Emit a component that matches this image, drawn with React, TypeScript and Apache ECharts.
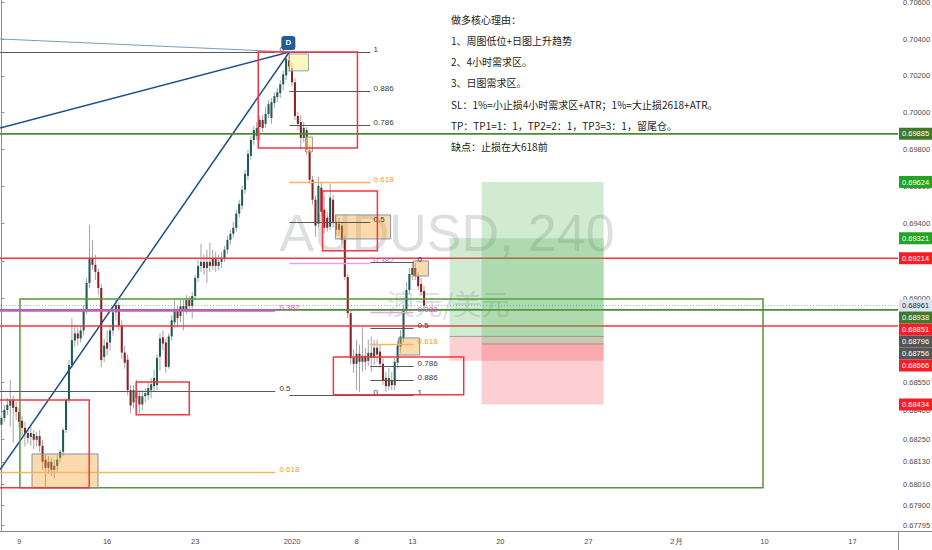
import React, { useEffect, useRef } from 'react';
import * as echarts from 'echarts';

// ---------- candle data (AUDUSD 4h) ----------
const opens = [
  0.68326,0.68362,0.68405,0.68427,0.68458,0.68421,0.68394,0.68348,0.68310,0.68283,
  0.68262,0.68278,0.68247,0.68267,0.68215,0.68142,0.68099,0.68131,0.68088,0.68109,
  0.68152,0.68183,0.68299,0.68458,0.68644,0.68774,0.68812,0.68785,0.68828,0.68936,
  0.69082,0.69216,0.69179,0.69141,0.69055,0.68686,0.68764,0.68764,0.68828,0.68925,
  0.68963,0.68855,0.68710,0.68672,0.68510,0.68445,0.68499,0.68478,0.68434,0.68478,
  0.68483,0.68510,0.68531,0.68537,0.68688,0.68791,0.68764,0.68634,0.68796,0.68871,
  0.68936,0.68904,0.68958,0.68942,0.68990,0.68958,0.69012,0.69109,0.69173,0.69195,
  0.69162,0.69195,0.69173,0.69216,0.69173,0.69195,0.69211,0.69260,0.69313,0.69346,
  0.69378,0.69454,0.69497,0.69583,0.69658,0.69766,0.69852,0.69874,0.69922,0.69960,
  0.69939,0.69993,0.69971,0.70052,0.70084,0.70106,0.70154,0.70203,0.70284,0.70241,
  0.70165,0.69982,0.69949,0.69863,0.69906,0.69799,0.69637,0.69529,0.69400,0.69594,
  0.69475,0.69432,0.69384,0.69529,0.69410,0.69367,0.69389,0.69313,0.69114,0.68920,
  0.68682,0.68650,0.68704,0.68661,0.68693,0.68666,0.68709,0.68682,0.68736,0.68715,
  0.68650,0.68575,0.68531,0.68564,0.68537,0.68656,0.68742,0.68785,0.68936,0.69044,
  0.69125,0.69162,0.69119,0.69076,0.69039,
];
const closes = [
  0.68362,0.68405,0.68432,0.68458,0.68416,0.68394,0.68342,0.68310,0.68283,0.68256,
  0.68283,0.68247,0.68267,0.68215,0.68131,0.68099,0.68131,0.68088,0.68109,0.68142,
  0.68183,0.68299,0.68458,0.68644,0.68776,0.68812,0.68785,0.68828,0.68936,0.69082,
  0.69216,0.69179,0.69141,0.69055,0.68670,0.68747,0.68731,0.68828,0.68925,0.68963,
  0.68855,0.68710,0.68656,0.68510,0.68429,0.68510,0.68467,0.68434,0.68478,0.68494,
  0.68521,0.68542,0.68575,0.68682,0.68785,0.68758,0.68634,0.68796,0.68882,0.68936,
  0.68893,0.68958,0.68936,0.68990,0.68958,0.69012,0.69109,0.69173,0.69195,0.69162,
  0.69195,0.69173,0.69216,0.69173,0.69195,0.69216,0.69260,0.69313,0.69346,0.69378,
  0.69454,0.69507,0.69583,0.69669,0.69777,0.69852,0.69906,0.69917,0.69960,0.69917,
  0.69993,0.70046,0.70057,0.70090,0.70111,0.70154,0.70208,0.70294,0.70251,0.70165,
  0.69982,0.69939,0.69863,0.69917,0.69799,0.69637,0.69529,0.69389,0.69604,0.69464,
  0.69378,0.69378,0.69540,0.69410,0.69367,0.69400,0.69313,0.69114,0.68920,0.68680,
  0.68650,0.68704,0.68661,0.68693,0.68661,0.68709,0.68682,0.68736,0.68699,0.68650,
  0.68564,0.68531,0.68575,0.68537,0.68661,0.68747,0.68796,0.68936,0.69044,0.69130,
  0.69162,0.69119,0.69065,0.69033,0.68961,
];
const lows = [
  0.68299,0.68342,0.68378,0.68316,0.68231,0.68353,0.68310,0.68267,0.68210,0.68226,
  0.68215,0.68199,0.68210,0.68183,0.68088,0.67998,0.68066,0.68055,0.68045,0.68077,
  0.68131,0.68161,0.68283,0.68442,0.68628,0.68742,0.68747,0.68764,0.68801,0.68915,
  0.69055,0.69152,0.69098,0.69017,0.68632,0.68659,0.68694,0.68721,0.68801,0.68882,
  0.68828,0.68677,0.68624,0.68483,0.68389,0.68413,0.68402,0.68389,0.68402,0.68445,
  0.68456,0.68467,0.68499,0.68510,0.68613,0.68721,0.68602,0.68624,0.68774,0.68839,
  0.68844,0.68871,0.68828,0.68915,0.68925,0.68893,0.68990,0.69087,0.69141,0.69125,
  0.69082,0.69141,0.69152,0.69141,0.69152,0.69162,0.69195,0.69238,0.69286,0.69324,
  0.69357,0.69432,0.69475,0.69561,0.69637,0.69745,0.69825,0.69852,0.69852,0.69896,
  0.69917,0.69971,0.69939,0.70025,0.70057,0.70079,0.70122,0.70176,0.70219,0.70143,
  0.69960,0.69906,0.69799,0.69842,0.69772,0.69615,0.69502,0.69330,0.69378,0.69443,
  0.69346,0.69357,0.69367,0.69378,0.69335,0.69335,0.69292,0.69098,0.68893,0.68648,
  0.68602,0.68510,0.68499,0.68607,0.68618,0.68639,0.68607,0.68645,0.68661,0.68629,
  0.68537,0.68499,0.68510,0.68510,0.68510,0.68624,0.68710,0.68764,0.68915,0.69022,
  0.69098,0.69098,0.69044,0.69012,0.68947,
];
const highs = [
  0.68394,0.68432,0.68469,0.68564,0.68480,0.68448,0.68416,0.68373,0.68342,0.68310,
  0.68321,0.68299,0.68289,0.68299,0.68247,0.68167,0.68161,0.68152,0.68142,0.68167,
  0.68194,0.68310,0.68469,0.68671,0.68894,0.68855,0.68844,0.68855,0.68963,0.69109,
  0.69394,0.69313,0.69233,0.69162,0.69076,0.68785,0.68828,0.68855,0.68958,0.68990,
  0.68979,0.68882,0.68747,0.68699,0.68537,0.68537,0.68564,0.68510,0.68510,0.68521,
  0.68553,0.68575,0.68618,0.68699,0.68812,0.68828,0.68785,0.68812,0.68909,0.68990,
  0.68958,0.68990,0.68990,0.69017,0.69012,0.69033,0.69125,0.69206,0.69292,0.69233,
  0.69260,0.69297,0.69260,0.69249,0.69233,0.69249,0.69281,0.69335,0.69367,0.69410,
  0.69475,0.69529,0.69604,0.69691,0.69799,0.69874,0.69928,0.69949,0.69982,0.69987,
  0.70030,0.70068,0.70079,0.70111,0.70133,0.70176,0.70230,0.70311,0.70330,0.70273,
  0.70187,0.70003,0.69987,0.69949,0.69922,0.69820,0.69658,0.69551,0.69653,0.69626,
  0.69551,0.69464,0.69615,0.69556,0.69443,0.69432,0.69410,0.69335,0.69130,0.68936,
  0.68726,0.68779,0.68752,0.68844,0.68736,0.68779,0.68796,0.68779,0.68779,0.68752,
  0.68682,0.68607,0.68629,0.68607,0.68682,0.68774,0.68828,0.68963,0.69087,0.69162,
  0.69189,0.69189,0.69141,0.69109,0.69065,
];

// ---------- axes ----------
const xTickIdx = [6, 36, 66, 99, 121, 140, 170, 200, 230, 260, 290];
const xTickText = ['9', '16', '23', '2020', '8', '13', '20', '27', '2月', '10', '17'];
const yTickValues = [0.706, 0.704, 0.702, 0.7, 0.698, 0.696, 0.694, 0.692, 0.69, 0.6855, 0.684, 0.6825, 0.6813, 0.6801, 0.679, 0.67795];
const X_MIN = -0.5;
const X_MAX = 305.5;
const Y_MIN = 0.67766;
const Y_MAX = 0.70614;

// ---------- drawings (bar index, price) ----------
const fibALevels = ['1', '0.886', '0.786', '0.618', '0.5', '0.382', '0'];
const fibAPrices = [0.7033, 0.7012, 0.69935, 0.69625, 0.69408, 0.6919, 0.68485];
const fibARange = [98.1, 125.7, 126.8];
const fibBLevels = ['0', '0.382', '0.5', '0.618', '0.786', '0.886', '1'];
const fibBPrices = [0.69195, 0.68924, 0.6884, 0.68756, 0.68637, 0.68566, 0.68485];
const fibBRange = [125.7, 140.4, 141.8];
const fibCLevels = ['0', '0.382', '0.5', '0.618'];
const fibCPrices = [0.7033, 0.68937, 0.68507, 0.68076];
const fibCRange = [-0.5, 93.3, 94.7];

const redBoxes = [
  [87.5, 0.7033, 121.3, 0.69809],
  [109.4, 0.69576, 128.1, 0.69254],
  [113.1, 0.68687, 157.5, 0.68485],
  [45.9, 0.68554, 64.0, 0.68379],
  [-3, 0.68458, 29.9, 0.67993],
];
const orangeBoxes = [
  [10.4, 0.68172, 32.9, 0.67993],
  [113.8, 0.69447, 132.6, 0.69318],
  [140.4, 0.692, 145.5, 0.69119],
  [135.3, 0.68788, 142.5, 0.68697],
];
const yellowBoxes = [
  [98.1, 0.70319, 104.6, 0.70227],
  [103.6, 0.69868, 106.0, 0.69787],
];
const greenBoxes = [[6.3, 0.68996, 259.5, 0.67993]];
const trendLines = [
  [-0.5, 0.69917, 98.1, 0.7033],
  [-0.5, 0.68088, 98.1, 0.7033],
];
const thinLines = [[-0.5, 0.70401, 98.1, 0.7033]];
const pivotPoint = [[98.1, 0.7033]];

const hLinePrices = [0.69885, 0.69214, 0.68938, 0.68851];
const hLineKinds = ['green', 'red', 'green', 'red'];
const lastPrice = 0.68961;

const posX1 = [152.7, 163.6];
const posX2 = [205.2, 205.2];
const posEntry = [0.68796, 0.68756];
const posTarget = [0.69321, 0.69624];
const posStop = [0.68666, 0.68434];

const tagPrices = [0.69885, 0.69624, 0.69321, 0.69214, 0.68961, 0.68938, 0.68851, 0.68796, 0.68756, 0.68666, 0.68434];
const tagKinds = ['dkgreen', 'green', 'green', 'red', 'last', 'dkgreen', 'red', 'gray', 'gray', 'red', 'red'];

const noteLines = [
  '做多核心理由：',
  '1、周图低位+日图上升趋势',
  '2、4小时需求区。',
  '3、日图需求区。',
  'SL：1%=小止损4小时需求区+ATR；1%=大止损2618+ATR。',
  'TP：TP1=1：1，TP2=2：1，TP3=3：1，留尾仓。',
  '缺点：止损在大618前',
];

// ---------- styles ----------
const UP = '#1d5d52';
const DOWN = '#8c1f22';
const WICK = '#a2a4a8';
const RED = '#f23645';
const GREEN_LINE = '#4d8a33';
const AX_FONT = '7.5px "Liberation Sans", Arial, sans-serif';
const FIB_FONT = '8px "Liberation Sans", Arial, sans-serif';
const TAG_STYLE: Record<string, { bg: string; fg: string }> = {
  dkgreen: { bg: '#3f7a2b', fg: '#ffffff' },
  green: { bg: '#23a523', fg: '#ffffff' },
  red: { bg: '#f51d26', fg: '#ffffff' },
  gray: { bg: '#555555', fg: '#ffffff' },
  last: { bg: '#d9e6f2', fg: '#1e2733' },
};

function rectSeries(data: number[][], style: any, z: number) {
  return {
    type: 'custom',
    data,
    z,
    silent: true,
    clip: true,
    encode: { x: [0, 2], y: [1, 3] },
    renderItem: (params: any, api: any) => {
      const a = api.coord([api.value(0), api.value(1)]);
      const b = api.coord([api.value(2), api.value(3)]);
      return {
        type: 'rect',
        shape: {
          x: Math.min(a[0], b[0]),
          y: Math.min(a[1], b[1]),
          width: Math.abs(b[0] - a[0]),
          height: Math.abs(b[1] - a[1]),
        },
        style,
      };
    },
  };
}

function segSeries(data: number[][], style: any, z: number) {
  return {
    type: 'custom',
    data,
    z,
    silent: true,
    clip: true,
    encode: { x: [0, 2], y: [1, 3] },
    renderItem: (params: any, api: any) => {
      const a = api.coord([api.value(0), api.value(1)]);
      const b = api.coord([api.value(2), api.value(3)]);
      return { type: 'line', shape: { x1: a[0], y1: a[1], x2: b[0], y2: b[1] }, style };
    },
  };
}

function fibSeries(levels: string[], prices: number[], range: number[], thick382: boolean) {
  return {
    type: 'custom',
    data: prices.map((p, k) => [range[0], p, k]),
    z: 7,
    silent: true,
    clip: true,
    encode: { x: 0, y: 1 },
    renderItem: (params: any, api: any) => {
      const k = params.dataIndex;
      const p = prices[k];
      const lvl = levels[k];
      const a = api.coord([range[0], p]);
      const b = api.coord([range[1], p]);
      const t = api.coord([range[2], p]);
      let stroke = '#55585e';
      let lw = 1;
      let tc = '#3a3a3a';
      if (lvl === '0.618') { stroke = '#f8b25e'; lw = 1.5; tc = '#f29b2e'; }
      if (lvl === '0.382') {
        stroke = thick382 ? '#c35ec3' : '#eaa0ea';
        lw = thick382 ? 2.5 : 1.5;
        tc = '#d050d0';
      }
      const y = Math.round(a[1]) + 0.5;
      return {
        type: 'group',
        children: [
          { type: 'line', shape: { x1: a[0], y1: y, x2: b[0], y2: y }, style: { stroke, lineWidth: lw } },
          {
            type: 'text',
            style: {
              x: t[0], y: y + 1, text: lvl, fill: tc, font: FIB_FONT,
              textAlign: 'left', align: 'left', textVerticalAlign: 'bottom', verticalAlign: 'bottom',
            },
          },
        ],
      };
    },
  };
}

const candleSeries = {
  type: 'custom',
  name: 'AUDUSD',
  data: opens.map((o, i) => [i, o, closes[i], lows[i], highs[i]]),
  z: 5,
  silent: true,
  clip: true,
  encode: { x: 0, y: [1, 2, 3, 4] },
  renderItem: (params: any, api: any) => {
    const i = api.value(0);
    const o = api.value(1);
    const c = api.value(2);
    const l = api.value(3);
    const h = api.value(4);
    const pO = api.coord([i, o]);
    const pC = api.coord([i, c]);
    const pL = api.coord([i, l]);
    const pH = api.coord([i, h]);
    const unit = api.coord([i + 0.5, o])[0] - api.coord([i - 0.5, o])[0];
    const bw = unit * 0.7;
    const cx = pO[0];
    const top = Math.min(pO[1], pC[1]);
    const ht = Math.max(1, Math.abs(pO[1] - pC[1]));
    return {
      type: 'group',
      children: [
        { type: 'line', shape: { x1: cx, y1: pH[1], x2: cx, y2: pL[1] }, style: { stroke: WICK, lineWidth: 1 } },
        { type: 'rect', shape: { x: cx - bw / 2, y: top, width: bw, height: ht }, style: { fill: c >= o ? UP : DOWN } },
      ],
    };
  },
};

const hLineSeries = {
  type: 'custom',
  data: hLinePrices.map((p) => [X_MIN, p]),
  z: 6,
  silent: true,
  clip: true,
  encode: { x: 0, y: 1 },
  renderItem: (params: any, api: any) => {
    const k = params.dataIndex;
    const a = api.coord([X_MIN, hLinePrices[k]]);
    const b = api.coord([X_MAX, hLinePrices[k]]);
    const kind = hLineKinds[k];
    return {
      type: 'line',
      shape: { x1: a[0], y1: a[1], x2: b[0], y2: b[1] },
      style: { stroke: kind === 'green' ? GREEN_LINE : RED, lineWidth: kind === 'green' ? 1.6 : 1.5 },
    };
  },
};

const lastLineSeries = {
  type: 'custom',
  data: [[X_MIN, lastPrice]],
  z: 4,
  silent: true,
  clip: true,
  encode: { x: 0, y: 1 },
  renderItem: (params: any, api: any) => {
    const a = api.coord([X_MIN, lastPrice]);
    const b = api.coord([X_MAX, lastPrice]);
    return {
      type: 'line',
      shape: { x1: a[0], y1: a[1], x2: b[0], y2: b[1] },
      style: { stroke: '#8dbbe3', lineWidth: 1, lineDash: [1, 2] },
    };
  },
};

const positionSeries = {
  type: 'custom',
  data: posX1.map((x, k) => [x, posX2[k], posEntry[k], posTarget[k], posStop[k]]),
  z: 8,
  silent: true,
  clip: true,
  encode: { x: [0, 1], y: [2, 3, 4] },
  renderItem: (params: any, api: any) => {
    const x1 = api.value(0);
    const x2 = api.value(1);
    const e = api.coord([x1, api.value(2)]);
    const t = api.coord([x2, api.value(3)]);
    const s = api.coord([x2, api.value(4)]);
    return {
      type: 'group',
      children: [
        { type: 'rect', shape: { x: e[0], y: t[1], width: t[0] - e[0], height: e[1] - t[1] }, style: { fill: 'rgba(76,175,80,0.26)' } },
        { type: 'rect', shape: { x: e[0], y: e[1], width: s[0] - e[0], height: s[1] - e[1] }, style: { fill: 'rgba(242,54,69,0.24)' } },
        { type: 'line', shape: { x1: e[0], y1: e[1], x2: t[0], y2: e[1] }, style: { stroke: 'rgba(110,110,110,0.55)', lineWidth: 1 } },
      ],
    };
  },
};

const pivotSeries = {
  type: 'custom',
  data: pivotPoint,
  z: 12,
  silent: true,
  clip: false,
  encode: { x: 0, y: 1 },
  renderItem: (params: any, api: any) => {
    const p = api.coord([api.value(0), api.value(1)]);
    return {
      type: 'group',
      children: [
        { type: 'rect', shape: { x: p[0] - 8, y: p[1] - 16, width: 14, height: 14, r: 3 }, style: { fill: '#1f5c98' } },
        {
          type: 'text',
          style: {
            x: p[0] - 1, y: p[1] - 9, text: 'D', fill: '#ffffff', font: 'bold 8px "Liberation Sans", Arial, sans-serif',
            textAlign: 'center', align: 'center', textVerticalAlign: 'middle', verticalAlign: 'middle',
          },
        },
      ],
    };
  },
};

const TAG_H = 12;
const tagSeries = {
  type: 'custom',
  data: tagPrices.map((p) => [X_MAX, p]),
  z: 20,
  silent: true,
  clip: false,
  encode: { x: 0, y: 1 },
  renderItem: (params: any, api: any) => {
    const ys = tagPrices.map((p) => api.coord([X_MAX, p])[1]);
    const order = ys.map((_, i) => i).sort((a, b) => ys[a] - ys[b]);
    const adj = ys.slice();
    let prev = -1e9;
    for (const k of order) {
      const y = Math.max(ys[k], prev + TAG_H);
      adj[k] = y;
      prev = y;
    }
    const k = params.dataIndex;
    const x0 = api.coord([X_MAX, tagPrices[k]])[0];
    const st = TAG_STYLE[tagKinds[k]];
    return {
      type: 'group',
      children: [
        { type: 'rect', shape: { x: x0 + 1, y: adj[k] - TAG_H / 2, width: 40, height: TAG_H }, style: { fill: st.bg } },
        {
          type: 'text',
          style: {
            x: x0 + 4, y: adj[k], text: tagPrices[k].toFixed(5), fill: st.fg, font: AX_FONT,
            textAlign: 'left', align: 'left', textVerticalAlign: 'middle', verticalAlign: 'middle',
          },
        },
      ],
    };
  },
};

const option: any = {
  animation: false,
  backgroundColor: '#ffffff',
  grid: { left: 0, right: 34, top: 0, bottom: 19, containLabel: false, outerBoundsMode: 'none' },
  xAxis: {
    type: 'value',
    min: X_MIN,
    max: X_MAX,
    splitLine: { show: false },
    axisTick: { show: false },
    axisLine: { show: true, lineStyle: { color: '#8c8c8c', width: 1 } },
    axisLabel: {
      customValues: xTickIdx,
      formatter: (v: number) => {
        const k = xTickIdx.indexOf(Math.round(v));
        return k >= 0 ? xTickText[k] : '';
      },
      color: '#4a4a4a',
      fontSize: 7.5,
      fontFamily: '"Liberation Sans", Arial, sans-serif',
      margin: 6,
    },
  },
  yAxis: {
    type: 'log',
    logBase: 10,
    position: 'right',
    min: Y_MIN,
    max: Y_MAX,
    splitLine: { show: false },
    axisLine: { show: true, lineStyle: { color: '#8c8c8c', width: 1 } },
    axisTick: { show: true, customValues: yTickValues, length: 3, lineStyle: { color: '#8c8c8c' } },
    axisLabel: {
      customValues: yTickValues,
      formatter: (v: number) => Number(v).toFixed(5),
      color: '#4a4a4a',
      fontSize: 7.5,
      fontFamily: '"Liberation Sans", Arial, sans-serif',
      margin: 5,
    },
  },
  graphic: [
    {
      type: 'text', x: 447, y: 233, z: 0, silent: true,
      style: {
        text: 'AUDUSD, 240', fill: '#dedfe1', font: '52px "Liberation Sans", Arial, sans-serif',
        textAlign: 'center', align: 'center', textVerticalAlign: 'middle', verticalAlign: 'middle',
      },
    },
    {
      type: 'text', x: 448, y: 303, z: 0, silent: true,
      style: {
        text: '澳元/美元', fill: '#dedfe1', font: '28px "Noto Sans CJK SC", sans-serif',
        textAlign: 'center', align: 'center', textVerticalAlign: 'middle', verticalAlign: 'middle',
      },
    },
    ...noteLines.map((t, k) => ({
      type: 'text', x: 451, y: 19 + k * 21.3, z: 100, silent: true,
      style: {
        text: t, fill: '#1a1a1a', font: '10px "Noto Sans CJK SC", sans-serif',
        textAlign: 'left', align: 'left', textVerticalAlign: 'middle', verticalAlign: 'middle',
      },
    })),
    { type: 'line', z: 1, silent: true, shape: { x1: 898, y1: 531.5, x2: 932, y2: 531.5 }, style: { stroke: '#8c8c8c', lineWidth: 1 } },
    { type: 'line', z: 1, silent: true, shape: { x1: 898.5, y1: 531, x2: 898.5, y2: 550 }, style: { stroke: '#8c8c8c', lineWidth: 1 } },
  ],
  series: [
    lastLineSeries,
    candleSeries,
    segSeries(trendLines, { stroke: '#1b4f8c', lineWidth: 1.5 }, 6),
    segSeries(thinLines, { stroke: '#7d9cb8', lineWidth: 1 }, 6),
    rectSeries(greenBoxes, { fill: 'none', stroke: '#55963a', lineWidth: 1.5 }, 6),
    rectSeries(orangeBoxes, { fill: 'rgba(245,160,40,0.38)', stroke: '#8392a6', lineWidth: 1 }, 6),
    rectSeries(yellowBoxes, { fill: 'rgba(255,240,140,0.55)', stroke: '#96a0ac', lineWidth: 1 }, 6),
    hLineSeries,
    fibSeries(fibCLevels, fibCPrices, fibCRange, true),
    fibSeries(fibALevels, fibAPrices, fibARange, false),
    fibSeries(fibBLevels, fibBPrices, fibBRange, false),
    rectSeries(redBoxes, { fill: 'none', stroke: RED, lineWidth: 1.5 }, 9),
    positionSeries,
    pivotSeries,
    tagSeries,
  ],
};

export default function App() {
  const ref = useRef<HTMLDivElement>(null);
  useEffect(() => {
    if (!ref.current) return;
    const chart = echarts.init(ref.current, null, { renderer: 'svg' });
    chart.setOption(option);
    return () => chart.dispose();
  }, []);
  return (
    <div
      ref={ref}
      style={{ position: 'fixed', left: 0, top: 0, width: 932, height: 550, background: '#ffffff' }}
    />
  );
}
